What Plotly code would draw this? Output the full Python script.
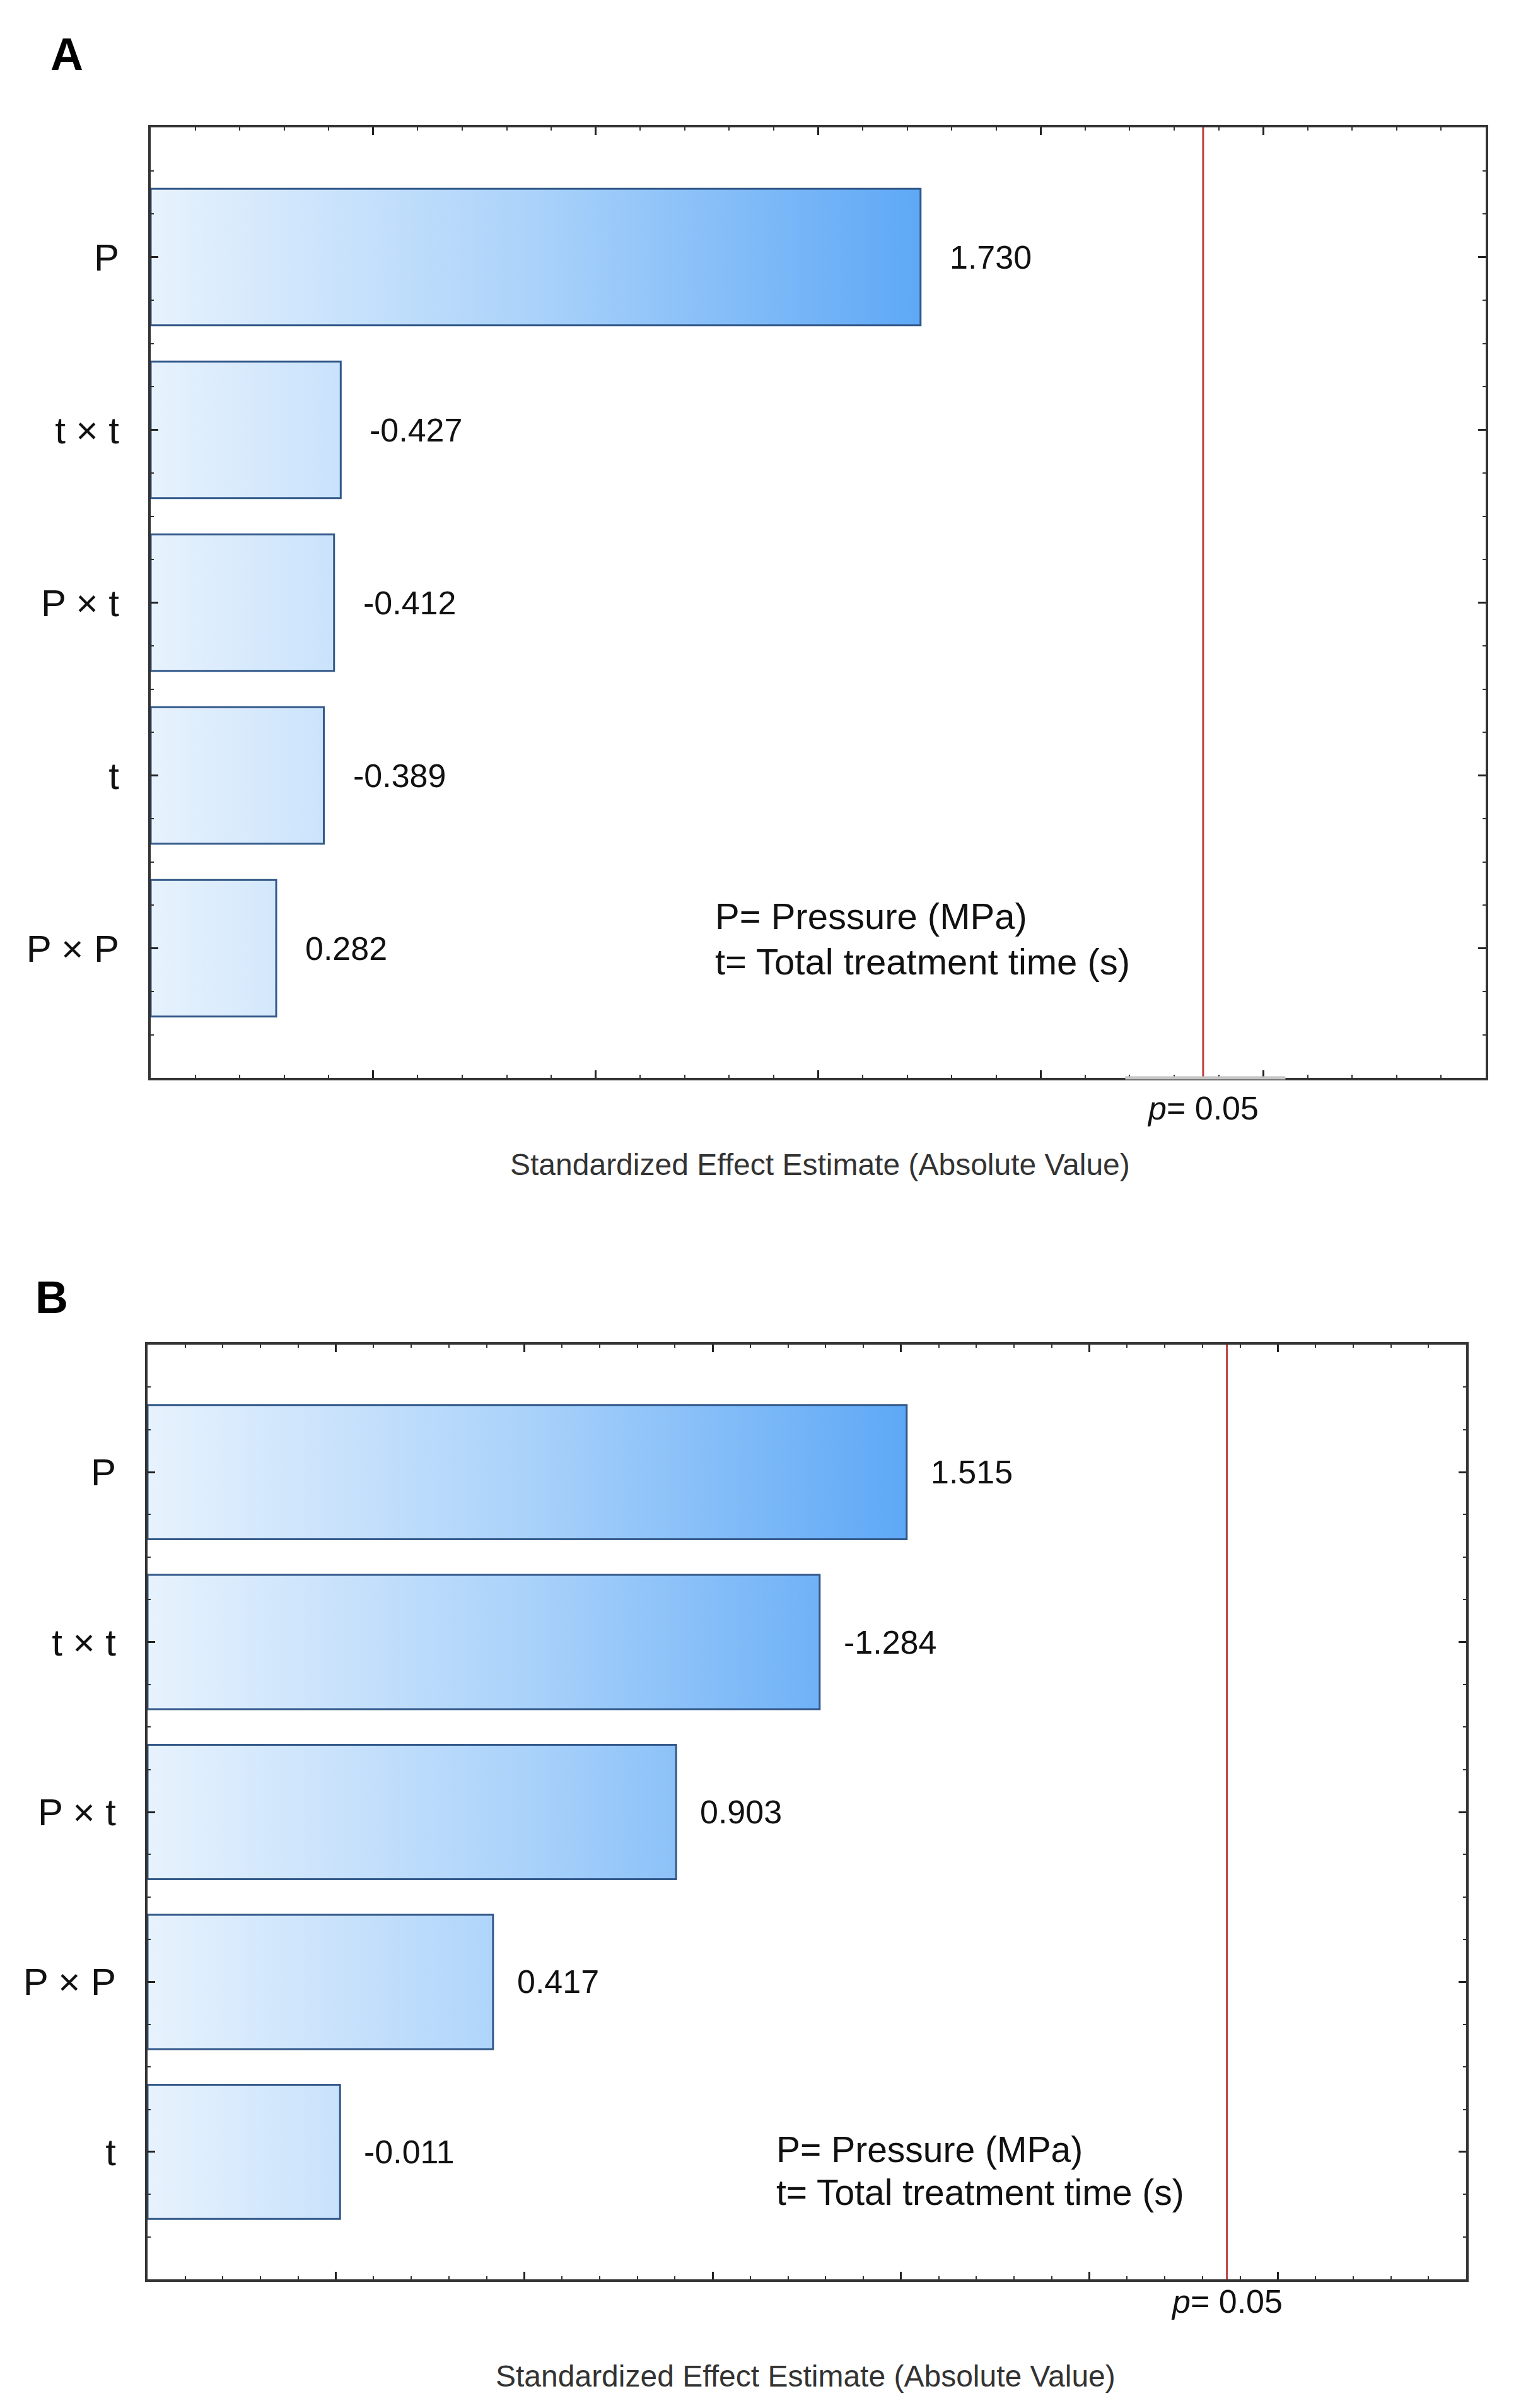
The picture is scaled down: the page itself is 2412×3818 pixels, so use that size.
import plotly.graph_objects as go

W, H = 2412, 3818

# ---------------- data ----------------
cats_a = ["P", "t × t", "P × t", "t", "P × P"]
effects_a = [1.730, -0.427, -0.412, -0.389, 0.282]

cats_b = ["P", "t × t", "P × t", "P × P", "t"]
effects_b = [1.515, -1.284, 0.903, 0.417, -0.011]

p_crit = 2.365          # t critical value, p = 0.05
xrange_a = [0.0, 3.0]
xrange_b = [-0.5, 3.0]

FONT = "Liberation Sans, Arial, sans-serif"
BAR_EDGE = "#33598a"
GRAD = [[0.0, "#e7f2fd"], [0.5, "#aad2fa"], [1.0, "#5ea8f6"]]


def fx(px):
    return px / W


def fy(py):
    return 1 - py / H


fig = go.Figure()


def add_panel(cats, effects, xr, xa, ya, lbl_shift):
    base = xr[0]
    bw = 0.79
    xs, ys = [], []
    for i, e in enumerate(effects):
        v = abs(e)
        xs += [base, base, v, v, base, None]
        ys += [i - bw / 2, i + bw / 2, i + bw / 2, i - bw / 2, i - bw / 2, None]
    fig.add_trace(go.Scatter(
        x=xs, y=ys, mode="lines", fill="toself",
        fillgradient=dict(type="horizontal", colorscale=GRAD,
                          start=base, stop=max(abs(e) for e in effects)),
        line=dict(color=BAR_EDGE, width=3),
        xaxis=xa, yaxis=ya, hoverinfo="skip", showlegend=False))
    # critical line
    fig.add_trace(go.Scatter(
        x=[p_crit, p_crit], y=[-0.75, len(cats) - 0.25], mode="lines",
        line=dict(color="#b9403d", width=3),
        xaxis=xa, yaxis=ya, hoverinfo="skip", showlegend=False))
    for i, e in enumerate(effects):
        fig.add_annotation(x=abs(e), y=i, xref=xa, yref=ya, text=f"{e:.3f}",
                           showarrow=False, xanchor="left", yanchor="middle",
                           xshift=lbl_shift, font=dict(family=FONT, size=52, color="#111"))


add_panel(cats_a, effects_a, xrange_a, "x", "y", 44)
add_panel(cats_b, effects_b, xrange_b, "x2", "y2", 36)

xaxis_common = dict(
    showgrid=False, zeroline=False, showline=True, linecolor="#333", linewidth=4,
    mirror="allticks", ticks="inside", ticklen=12, tickwidth=3, tickcolor="#222",
    dtick=0.5, tick0=0, showticklabels=False,
    minor=dict(dtick=0.1, ticks="inside", ticklen=5, tickwidth=2, tickcolor="#333"),
)
yaxis_common = dict(
    showgrid=False, zeroline=False, showline=True, linecolor="#333", linewidth=4,
    mirror="allticks", ticks="inside", ticklen=12, tickwidth=3, tickcolor="#222",
    tickvals=list(range(5)), range=[4.75, -0.75],
    minor=dict(dtick=0.25, tick0=0, ticks="inside", ticklen=5, tickwidth=2, tickcolor="#333"),
    tickfont=dict(family=FONT, size=60, color="#111"), ticklabelstandoff=34,
)

fig.update_layout(
    width=W, height=H, margin=dict(l=0, r=0, t=0, b=0),
    paper_bgcolor="white", plot_bgcolor="white", showlegend=False,
    xaxis=dict(**xaxis_common, domain=[fx(239), fx(2356)], range=xrange_a, anchor="y"),
    yaxis=dict(**yaxis_common, domain=[fy(1709), fy(202)], ticktext=cats_a, anchor="x"),
    xaxis2=dict(**xaxis_common, domain=[fx(234), fx(2325)], range=xrange_b, anchor="y2"),
    yaxis2=dict(**yaxis_common, domain=[fy(3614), fy(2132)], ticktext=cats_b, anchor="x2"),
)

# faded section of the bottom axis in panel A
fig.add_shape(type="line", xref="x", yref="y domain", x0=2.19, x1=2.55, y0=0, y1=0,
              line=dict(color="#c4c4c4", width=5), layer="above")

# panel letters
fig.add_annotation(x=fx(78), y=fy(44), xref="paper", yref="paper", text="<b>A</b>",
                   showarrow=False, font=dict(family=FONT, size=72, color="black"))
fig.add_annotation(x=fx(54), y=fy(2057), xref="paper", yref="paper", text="<b>B</b>",
                   showarrow=False, font=dict(family=FONT, size=72, color="black"))

# legends of abbreviations
for (x0, y1, y2, sz) in [(1132, 1453, 1524, 58), (1229, 3408, 3476, 57)]:
    fig.add_annotation(x=fx(x0), y=fy(y1), xref="paper", yref="paper", text="P= Pressure (MPa)",
                       showarrow=False, xanchor="left", yanchor="middle",
                       font=dict(family=FONT, size=sz, color="#111"))
    fig.add_annotation(x=fx(x0), y=fy(y2), xref="paper", yref="paper", text="t= Total treatment time (s)",
                       showarrow=False, xanchor="left", yanchor="middle",
                       font=dict(family=FONT, size=sz, color="#111"))

# p = 0.05 labels under the critical lines
fig.add_annotation(x=p_crit, y=fy(1757), xref="x", yref="paper", text="<i>p</i>= 0.05",
                   showarrow=False, font=dict(family=FONT, size=52, color="#111"))
fig.add_annotation(x=p_crit, y=fy(3680), xref="x2", yref="paper", text="<i>p</i>= 0.05",
                   showarrow=False, font=dict(family=FONT, size=52, color="#111"))

# axis titles
title = "Standardized Effect Estimate (Absolute Value)"
fig.add_annotation(x=fx(1300), y=fy(1847), xref="paper", yref="paper", text=title,
                   showarrow=False, font=dict(family=FONT, size=48, color="#333"))
fig.add_annotation(x=fx(1277), y=fy(3796), xref="paper", yref="paper", text=title,
                   showarrow=False, font=dict(family=FONT, size=48, color="#333"))

fig.write_html("out.html", config={"displayModeBar": False},
               post_script="document.body.style.margin='0';")
